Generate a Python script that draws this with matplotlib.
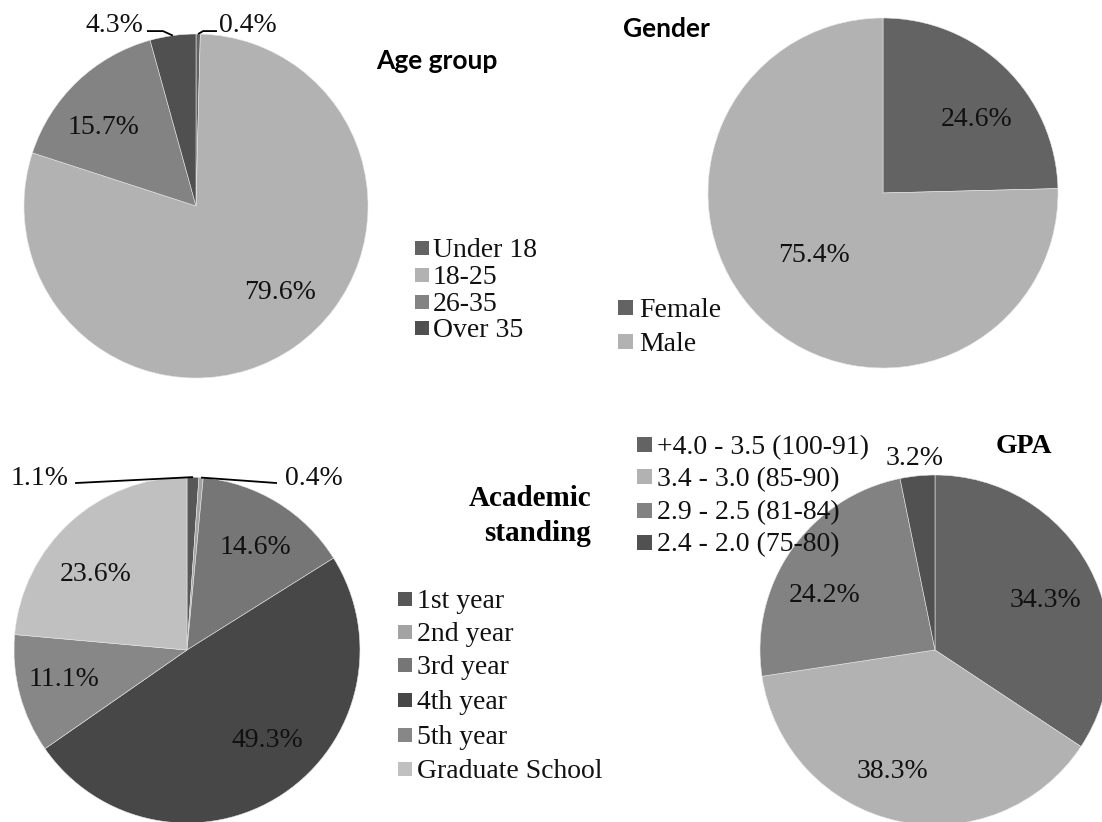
import numpy as np
import matplotlib
matplotlib.use("Agg")
import matplotlib.pyplot as plt
from matplotlib.patches import Rectangle
from matplotlib.transforms import ScaledTranslation

# ---- data -------------------------------------------------------------
age_labels = ["Under 18", "18-25", "26-35", "Over 35"]
age_values = [0.4, 79.6, 15.7, 4.3]

gender_labels = ["Female", "Male"]
gender_values = [24.6, 75.4]

standing_labels = ["1st year", "2nd year", "3rd year", "4th year",
                   "5th year", "Graduate School"]
standing_values = [1.1, 0.4, 14.6, 49.3, 11.1, 23.6]

gpa_labels = ["+4.0 - 3.5 (100-91)", "3.4 - 3.0 (85-90)",
              "2.9 - 2.5 (81-84)", "2.4 - 2.0 (75-80)"]
gpa_values = [34.3, 38.3, 24.2, 3.2]

# ---- styling ----------------------------------------------------------
W, H = 1102, 822
SERIF = "Liberation Serif"
SANS_BOLD = "Lato"
FS = 20            # label / legend size (pt)
TEXT_COLOR = "#111111"

age_colors = ["#646464", "#b2b2b2", "#838383", "#505050"]
gender_colors = ["#636363", "#b2b2b2"]
standing_colors = ["#575757", "#a3a3a3", "#767676", "#474747", "#878787", "#c0c0c0"]
gpa_colors = ["#636363", "#b2b2b2", "#828282", "#515151"]

fig = plt.figure(figsize=(W / 100, H / 100), dpi=100)
fig.patch.set_facecolor("white")


def fxy(px, py):
    """pixel position (from top-left) -> figure fraction"""
    return px / W, 1 - py / H


def pie_axes(cx, cy, r):
    return fig.add_axes([(cx - r) / W, 1 - (cy + r) / H, 2 * r / W, 2 * r / H])


def centered_text(target, x, y, s, size, transform, **kw):
    """place text so that the middle of the capitals sits on (x, y)"""
    shift = ScaledTranslation(0, -0.33 * size / 72, fig.dpi_scale_trans)
    return target.text(x, y, s, fontsize=size, transform=transform + shift,
                       va="baseline", **kw)


def draw_pie(cx, cy, r, values, colors, label_pos, leaders):
    ax = pie_axes(cx, cy, r)
    wedges, _ = ax.pie(values, colors=colors, startangle=90, counterclock=False,
                       radius=1.0, normalize=True,
                       wedgeprops=dict(edgecolor="#e6e6e6", linewidth=0.4))
    ax.set_xlim(-1, 1)
    ax.set_ylim(-1, 1)
    ax.set_aspect("auto")
    ax.axis("off")
    total = float(sum(values))
    start = 0.0
    for v, (lx, ly), lead in zip(values, label_pos, leaders):
        mid = (start + v / 2) / total * 2 * np.pi
        start += v
        centered_text(ax, lx, ly, f"{v:.1f}%", FS, ax.transData,
                      ha="center", family=SERIF, color=TEXT_COLOR)
        if lead is not None:
            rim = (np.sin(mid), np.cos(mid))
            pts = [rim] + list(lead)
            xs, ys = zip(*pts)
            ax.plot(xs, ys, color="black", lw=1.3, clip_on=False,
                    solid_capstyle="butt")
    return ax, wedges


def draw_legend(wedges, labels, sw_x, text_x, rows, size=14):
    for w, lab, py in zip(wedges, labels, rows):
        x0, y0 = fxy(sw_x, py + size / 2)
        fig.patches.append(Rectangle((x0, y0), size / W, size / H,
                                     transform=fig.transFigure,
                                     facecolor=w.get_facecolor(), edgecolor="none"))
        tx, ty = fxy(text_x, py)
        centered_text(fig, tx, ty, lab, FS, fig.transFigure, ha="left",
                      family=SERIF, color=TEXT_COLOR)


# ---- Age group --------------------------------------------------------
age_pos = [(0.302, 1.064), (0.488, -0.488), (-0.535, 0.471), (-0.477, 1.064)]
age_leads = [[(0.041, 1.017), (0.122, 1.017)], None, None,
             [(-0.192, 1.017), (-0.285, 1.017)]]
_, w_age = draw_pie(196, 206, 172, age_values, age_colors, age_pos, age_leads)
draw_legend(w_age, age_labels, 415, 433, [248, 275, 302, 328])
centered_text(fig, *fxy(437, 60), "Age group", 19, fig.transFigure, ha="center",
              family=SANS_BOLD, weight="bold", color="black")

# ---- Gender -----------------------------------------------------------
gender_pos = [(0.537, 0.434), (-0.394, -0.343)]
_, w_gen = draw_pie(883, 193, 175, gender_values, gender_colors, gender_pos,
                    [None, None])
draw_legend(w_gen, gender_labels, 618, 639, [308, 342], size=15)
centered_text(fig, *fxy(666, 28), "Gender", 19, fig.transFigure, ha="center",
              family=SANS_BOLD, weight="bold", color="black")

# ---- Academic standing ------------------------------------------------
st_pos = [(-0.850, 1.006), (0.734, 1.006), (0.393, 0.607), (0.462, -0.509),
          (-0.711, -0.156), (-0.526, 0.451)]
st_leads = [[(-0.647, 0.965)], [(0.52, 0.965)], None, None, None, None]
_, w_st = draw_pie(187, 650, 173, standing_values, standing_colors, st_pos, st_leads)
draw_legend(w_st, standing_labels, 398, 417, [599, 632, 665, 700, 735, 769])
centered_text(fig, *fxy(591, 496), "Academic", 21, fig.transFigure, ha="right",
              family=SERIF, weight="bold", color="black")
centered_text(fig, *fxy(591, 531), "standing", 21, fig.transFigure, ha="right",
              family=SERIF, weight="bold", color="black")

# ---- GPA --------------------------------------------------------------
gpa_pos = [(0.63, 0.30), (-0.246, -0.68), (-0.63, 0.326), (-0.114, 1.11)]
_, w_gpa = draw_pie(935, 650, 175, gpa_values, gpa_colors, gpa_pos,
                    [None] * 4)
draw_legend(w_gpa, gpa_labels, 637, 657, [445, 477, 510, 542], size=15)
centered_text(fig, *fxy(1024, 444), "GPA", 20, fig.transFigure, ha="center",
              family=SERIF, weight="bold", color="black")

fig.savefig("out.png", dpi=100, facecolor="white")
